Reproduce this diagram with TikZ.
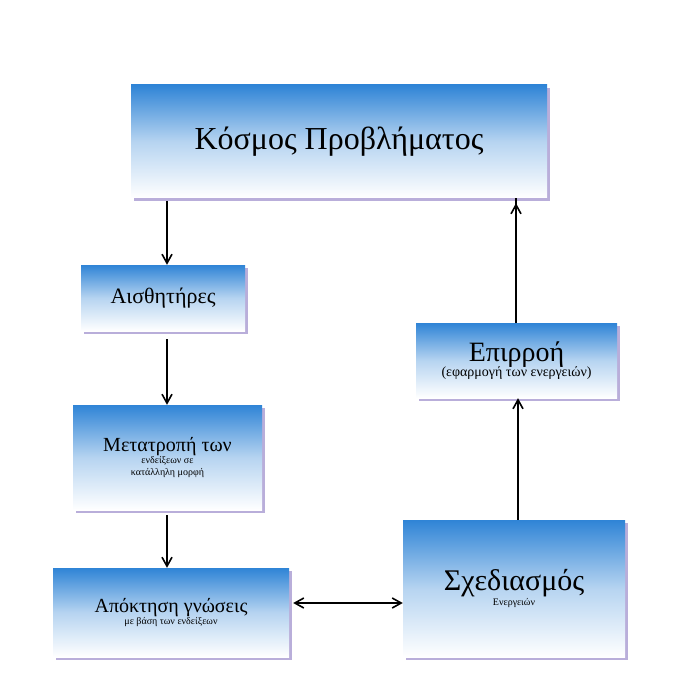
\documentclass[tikz,border=0pt]{standalone}
\usepackage{fontspec}
\setmainfont{Liberation Serif}
\usetikzlibrary{arrows.meta}
\definecolor{topb}{HTML}{2F84D6}
\definecolor{shad}{HTML}{B9AEDA}
\tikzset{
 bx/.style={rectangle, top color=topb, bottom color=white, middle color=topb!45!white, shading angle=0, align=center, inner sep=0pt, text=black},
 ar/.style={-{Straight Barb[length=9pt,width=10pt]}, line width=1.6pt},
 dar/.style={{Straight Barb[length=9pt,width=10pt]}-{Straight Barb[length=9pt,width=10pt]}, line width=1.6pt}
}
\newcommand{\boxat}[6]{% name, x1,y1,x2,y2, text
 \fill[shad] (#2+3,#3+3) rectangle (#4+3,#5+3);
 \shade[top color=topb, bottom color=white, middle color=topb!35!white] (#2,#3) rectangle (#4,#5);
 \node[inner sep=0pt, align=center, minimum width=#4-#2, minimum height=#5-#3] (#1) at ({(#2+#4)/2},{(#3+#5)/2}) {#6};
}
\begin{document}
\begin{tikzpicture}[x=1pt,y=-1pt]
\useasboundingbox (0,0) rectangle (700,700);
\boxat{k}{131}{85}{547}{198}{\fontsize{32}{36}\selectfont Κόσμος Προβλήματος}
\boxat{a}{81}{265}{245}{331}{\fontsize{22}{26}\selectfont Αισθητήρες}
\boxat{m}{73}{405}{262}{510}{\fontsize{20}{26}\selectfont Μετατροπή των\\ ενδείξεων σε\\ κατάλληλη μορφή}
\boxat{g}{53}{568}{289}{657}{\fontsize{20}{25}\selectfont Απόκτηση γνώσεις\\ με βάση των ενδείξεων}
\boxat{s}{403}{520}{625}{657}{\fontsize{30}{38}\selectfont Σχεδιασμός\\ Ενεργειών}
\boxat{e}{416}{323}{617}{398}{\fontsize{28}{32}\selectfont Επιρροή\\[-2pt]\fontsize{14}{16}\selectfont (εφαρμογή των ενεργειών)}
\draw[ar] (167,201) -- (a.north -| 167,0);
\draw[ar] (a.south -| 167,0) ++(0,8) -- (m.north -| 167,0);
\draw[ar] (m.south -| 167,0) ++(0,5) -- (g.north -| 167,0);
\draw[dar] (g.east |- 0,603) ++(4,0) -- (s.west |- 0,603);
\draw[ar] (s.north -| 518,0) -- (e.south -| 518,0);
\draw[ar] (e.north -| 516,0) -- (k.south -| 516,0) ++(0,5);
\end{tikzpicture}
\end{document}
